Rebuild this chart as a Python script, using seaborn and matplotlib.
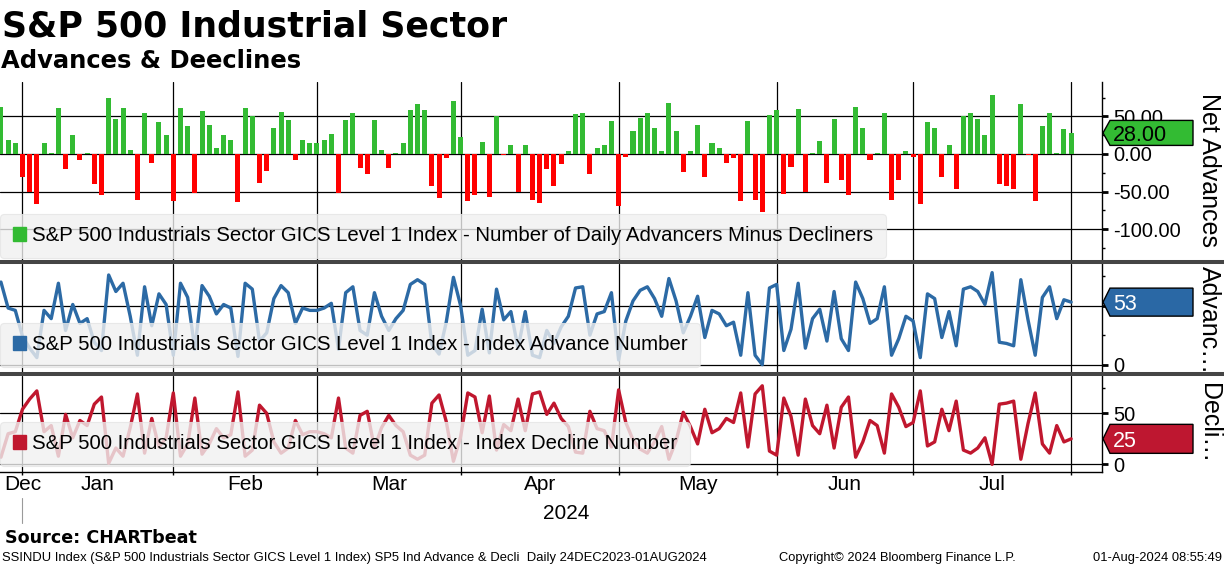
import numpy as np
import pandas as pd
import matplotlib
matplotlib.use("Agg")
import matplotlib.pyplot as plt
import matplotlib.transforms as mtransforms
from matplotlib.patches import Patch, Polygon
from matplotlib.lines import Line2D
from matplotlib.ticker import MultipleLocator, FormatStrFormatter
import seaborn as sns

# trading days 26 Dec 2023 - 31 Jul 2024
holidays = ["2024-01-01", "2024-01-15", "2024-02-19", "2024-03-29",
            "2024-05-27", "2024-06-19", "2024-07-04"]
dates = pd.bdate_range("2023-12-26", "2024-07-31", freq="C", holidays=holidays)

net_adv = [63, 18, 14, -30, -50, -66, 14, 1, 61, -20,
           25, -8, 1, -40, -54, 75, 46, 61, 5, -61,
           55, -12, 43, 25, -62, 61, 37, -52, 57, 38,
           8, 25, 19, -64, 61, 50, -38, -23, 34, 56,
           45, -8, 19, 14, 14, 18, 26, -52, 45, 55,
           -19, -27, 45, 5, -19, 1, 14, 59, 67, 59,
           -43, -59, -6, 71, 23, -62, -54, 16, -57, 50,
           -1, 12, -50, 12, -61, -65, -20, -42, -13, 4,
           53, 55, -27, 8, 12, 44, -69, -4, 30, 48,
           55, 34, 4, 68, 31, -24, 4, 38, -31, 15,
           8, -12, -5, -62, 44, -61, -77, 52, 59, -53,
           -17, 60, -50, 1, 17, -38, 46, -34, -54, 63,
           34, -8, 1, 55, -61, -34, 4, -4, -66, 42,
           34, -31, 12, -46, 50, 55, 46, 25, 78, -40,
           -42, -46, 67, -2, -62, 37, 55, 1, 33, 28]

advances = [70, 48, 46, 24, 14, 6, 46, 39, 69, 29,
            51, 35, 39, 19, 12, 76, 62, 69, 41, 8,
            66, 33, 60, 51, 8, 69, 57, 13, 67, 58,
            43, 51, 48, 7, 69, 64, 20, 27, 56, 67,
            61, 35, 48, 46, 46, 48, 52, 13, 61, 66,
            29, 25, 61, 41, 29, 39, 46, 68, 72, 68,
            17, 9, 36, 74, 50, 8, 12, 47, 10, 64,
            38, 45, 14, 45, 8, 6, 29, 18, 32, 41,
            65, 66, 25, 43, 45, 61, 4, 37, 54, 63,
            66, 56, 41, 73, 54, 27, 41, 58, 23, 46,
            43, 33, 36, 8, 61, 8, 0, 65, 68, 12,
            30, 69, 14, 39, 47, 20, 62, 22, 12, 70,
            56, 35, 39, 66, 8, 22, 41, 37, 6, 60,
            56, 23, 45, 16, 64, 66, 62, 51, 78, 19,
            18, 16, 72, 38, 8, 57, 66, 39, 55, 53]

declines = [7, 30, 32, 54, 64, 72, 32, 38, 8, 49,
            26, 43, 38, 59, 66, 1, 16, 8, 36, 69,
            11, 45, 17, 26, 70, 8, 20, 65, 10, 20,
            35, 26, 29, 71, 8, 14, 58, 50, 22, 11,
            16, 43, 29, 32, 32, 30, 26, 65, 16, 11,
            48, 52, 16, 36, 48, 38, 32, 9, 5, 9,
            60, 68, 42, 3, 27, 70, 66, 31, 67, 14,
            39, 33, 64, 33, 69, 71, 49, 60, 45, 37,
            12, 11, 52, 35, 33, 17, 73, 41, 24, 15,
            11, 22, 37, 5, 23, 51, 37, 20, 54, 31,
            35, 45, 41, 70, 17, 69, 77, 13, 9, 65,
            47, 9, 64, 38, 30, 58, 16, 56, 66, 7,
            22, 43, 38, 11, 69, 56, 37, 41, 72, 18,
            22, 54, 33, 62, 14, 11, 16, 26, 0, 59,
            60, 62, 5, 40, 70, 20, 11, 38, 22, 25]

legend_net = "S&P 500 Industrials Sector GICS Level 1 Index - Number of Daily Advancers Minus Decliners"
legend_adv = "S&P 500 Industrials Sector GICS Level 1 Index - Index Advance Number"
legend_dec = "S&P 500 Industrials Sector GICS Level 1 Index - Index Decline Number"

GREEN = "#33bb33"
RED_BAR = "#ff0000"
BLUE = "#2c6aa5"
RED = "#c0172e"

sns.set_style("white")
plt.rcParams["font.family"] = ["Liberation Sans", "DejaVu Sans"]
plt.rcParams["axes.unicode_minus"] = False
plt.rcParams["text.color"] = "black"
plt.rcParams["xtick.color"] = "black"
plt.rcParams["ytick.color"] = "black"
plt.rcParams["patch.edgecolor"] = "none"

W, H = 1224, 566
fig = plt.figure(figsize=(W / 100, H / 100), dpi=100)
IDT = mtransforms.IdentityTransform()


def add_panel(top, bottom, left=0, right=1102):
    return fig.add_axes([left / W, 1 - bottom / H, (right - left) / W, (bottom - top) / H])


ax1 = add_panel(82, 260)
ax2 = add_panel(264, 372)
ax3 = add_panel(376, 472)

x = np.arange(len(dates))
df = pd.DataFrame({"i": x, "net": net_adv, "adv": advances, "dec": declines})
df["sign"] = np.where(df["net"] >= 0, "up", "down")

# month ends (gridlines) and label positions
pos = pd.Series(x, index=dates)
ends = pos.groupby([dates.year, dates.month]).max().values
names = [d.strftime("%b") for d in dates[ends]]
mids = [ends[0]] + [(ends[k - 1] + ends[k]) / 2 for k in range(1, len(ends))]
xmin, xmax = -0.13, 153.3

# Net advances bars
sns.barplot(data=df, x="i", y="net", hue="sign", palette={"up": GREEN, "down": RED_BAR},
            native_scale=True, dodge=False, width=0.7, saturation=1, errorbar=None,
            linewidth=0, legend=False, ax=ax1)
sns.lineplot(data=df, x="i", y="adv", color=BLUE, linewidth=2.4, ax=ax2)
sns.lineplot(data=df, x="i", y="dec", color=RED, linewidth=2.4, ax=ax3)

ax1.set_ylim(-141, 95.7)
ax1.set_yticks([-100, -50, 0, 50])
ax1.yaxis.set_major_formatter(FormatStrFormatter("%.2f"))
ax2.set_ylim(-6.2, 85.3)
ax2.set_yticks([0, 50])
ax2.set_yticklabels(["0", ""])
ax3.set_ylim(-7.5, 86.6)
ax3.set_yticks([0, 50])

for ax in (ax1, ax2, ax3):
    ax.set_xlim(xmin, xmax)
    ax.set_xticks(ends)
    ax.grid(True, which="major", color="black", linewidth=0.9)
    ax.set_axisbelow(True)
    ax.yaxis.tick_right()
    ax.yaxis.set_minor_locator(MultipleLocator(25))
    for s in ("left", "top", "bottom"):
        ax.spines[s].set_visible(False)
    ax.spines["right"].set_color("black")
    ax.spines["right"].set_linewidth(1)
    ax.tick_params(axis="y", which="major", direction="out", length=4, width=2,
                   labelsize=14.4, pad=4, right=True, left=False, colors="black")
    ax.tick_params(axis="y", which="minor", direction="out", length=2.5, width=1,
                   right=True, left=False)
    ax.set_xlabel("")
    ax.set_ylabel("")

for ax in (ax1, ax2):
    ax.tick_params(axis="x", which="both", length=0, labelbottom=False)

ax3.spines["bottom"].set_visible(True)
ax3.spines["bottom"].set_color("black")
ax3.spines["bottom"].set_linewidth(1)
ax3.xaxis.remove_overlapping_locs = False
ax3.set_xticklabels([""] * len(ends))
ax3.set_xticks(mids, minor=True)
ax3.set_xticklabels(names, minor=True)
ax3.tick_params(axis="x", which="major", direction="out", length=2.5, width=1,
                bottom=True, colors="black")
ax3.tick_params(axis="x", which="minor", length=0, pad=2, labelsize=15, bottom=True)

# year label and Dec marker
year_start = int(np.argmax(dates.year == 2024))
ax3.text((year_start + xmax) / 2, -0.49, "2024", transform=ax3.get_xaxis_transform(),
         ha="center", va="baseline", fontsize=15)
ax3.plot([ends[0], ends[0]], [-0.27, -0.53], transform=ax3.get_xaxis_transform(),
         clip_on=False, color="#9a9a9a", linewidth=0.8)

# legends
for ax, lab, col, yb in ((ax1, legend_net, GREEN, 0.011),
                         (ax2, legend_adv, BLUE, 0.046),
                         (ax3, legend_dec, RED, 0.062)):
    leg = ax.legend(handles=[Patch(facecolor=col, edgecolor=col)], labels=[lab],
                    loc="lower left", bbox_to_anchor=(0, yb), frameon=True,
                    facecolor="#f0f0f0", edgecolor="#e4e4e4", framealpha=0.8,
                    fontsize=14.7, handlelength=0.65, handleheight=0.65,
                    handletextpad=0.3, borderpad=0.62, borderaxespad=0, fancybox=True)
    leg.get_frame().set_linewidth(0.8)

# right-side axis names
for ax, lab, ytop in ((ax1, "Net Advances", 0.938), (ax2, "Advanc\u2026", 0.98),
                      (ax3, "Decli\u2026", 0.927)):
    ax.text(1.097, ytop, lab, transform=ax.transAxes, rotation=270,
            ha="center", va="top", fontsize=18)


# last-value tags
def tag(ax, value, text, face, tcolor, h):
    xr, yv = ax.transData.transform((xmax, value))
    verts = [(xr + 1, yv), (xr + 8, yv + h / 2), (xr + 91, yv + h / 2),
             (xr + 91, yv - h / 2), (xr + 8, yv - h / 2)]
    fig.add_artist(Polygon(verts, closed=True, facecolor=face, edgecolor="black",
                           linewidth=1, transform=IDT, zorder=5))
    fig.text(xr + 11, yv, text, transform=IDT, ha="left", va="center_baseline",
             fontsize=15.5, color=tcolor, zorder=6)


tag(ax1, net_adv[-1], f"{net_adv[-1]:.2f}", GREEN, "black", 25)
tag(ax2, advances[-1], f"{advances[-1]}", "#2a68a5", "white", 28)
tag(ax3, declines[-1], f"{declines[-1]}", "#be1730", "white", 29)

# panel separators
for ypx in (262, 374):
    fig.add_artist(Line2D([0, W], [H - ypx, H - ypx], transform=IDT,
                          color="#454545", linewidth=2.9))

# titles and footer
fig.text(2 / W, 1 - 36.7 / H, "S&P 500 Industrial Sector", fontsize=25,
         weight="bold", family="DejaVu Sans", va="baseline")
fig.text(1 / W, 1 - 68.3 / H, "Advances & Deeclines", fontsize=17.5,
         weight="bold", family="DejaVu Sans", va="baseline")
fig.text(5 / W, 1 - 543.3 / H, "Source: CHARTbeat", fontsize=12.6,
         weight="bold", family="DejaVu Sans", va="baseline")
fig.text(2 / W, 1 - 561 / H,
         "SSINDU Index (S&P 500 Industrials Sector GICS Level 1 Index) SP5 Ind Advance & Decli  Daily 24DEC2023-01AUG2024",
         fontsize=9.4, va="baseline")
fig.text(779 / W, 1 - 561 / H, "Copyright\u00a9 2024 Bloomberg Finance L.P.",
         fontsize=9.3, va="baseline")
fig.text(1222 / W, 1 - 561 / H, "01-Aug-2024 08:55:49", fontsize=9.3,
         va="baseline", ha="right")

fig.savefig("out.png", dpi=100)
